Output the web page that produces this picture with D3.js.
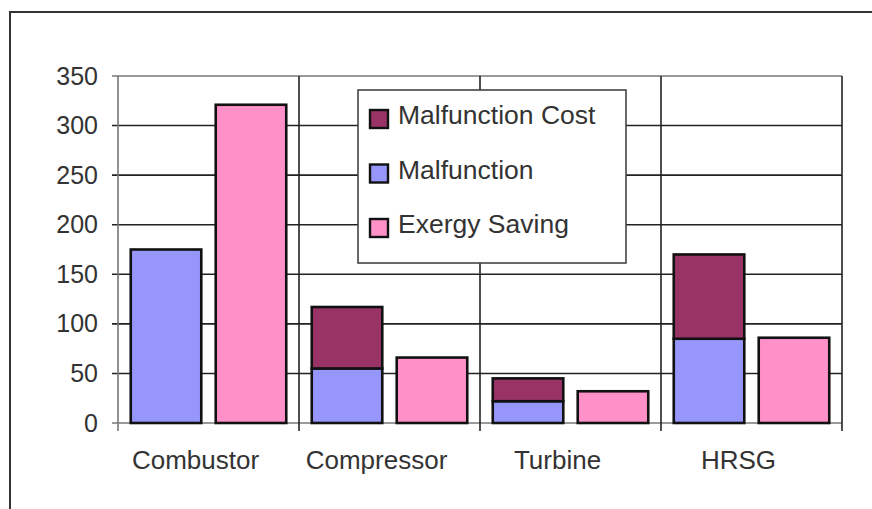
<!DOCTYPE html>
<html>
<head>
<meta charset="utf-8">
<script src="https://cdnjs.cloudflare.com/ajax/libs/d3/7.8.5/d3.min.js"></script>
<style>
  body { margin: 0; background: #fff; }
  svg { display: block; font-family: 'Liberation Sans', Arial, sans-serif; }
  .frame { fill: none; stroke: #333; stroke-width: 2; }
  .grid line { stroke: #222; stroke-width: 1.6; }
  .axis path { display: none; }
  .axis text { fill: #333; }
  .bar { stroke: #111; stroke-width: 2.6; }
  .legend rect.box { fill: #fff; stroke: #444; stroke-width: 1.6; }
  .legend text { fill: #333; font-size: 26.5px; }
</style>
</head>
<body>
<svg width="872" height="509"></svg>
<script>
// Data:
var categories = ['Combustor', 'Compressor', 'Turbine', 'HRSG'];
var malfunction = [175, 55, 22, 85];
var malfunctionCost = [0, 62, 23, 85];
var exergySaving = [321, 66, 32, 86];
var yTicks = [0, 50, 100, 150, 200, 250, 300, 350];

// Series names and colours:
var seriesNames = ['Malfunction Cost', 'Malfunction', 'Exergy Saving'];
var colors = {
  'Malfunction Cost': '#993366',
  'Malfunction': '#9696fc',
  'Exergy Saving': '#ff91c8'
};

// Select the SVG element:
var svg = d3.select('svg');

// Define the margins of the plot area:
var margin = {
  top: 76,
  right: 30,
  bottom: 86,
  left: 118
};

var width = 872 - margin.left - margin.right;
var height = 509 - margin.top - margin.bottom;

// Outer frame of the picture (only top and left are visible):
svg.append('path')
  .attr('class', 'frame')
  .attr('d', 'M10,520V12H880');

// Build rows from the arrays:
var data = categories.map(function (c, i) {
  return {
    category: c,
    malfunction: malfunction[i],
    cost: malfunctionCost[i],
    saving: exergySaving[i]
  };
});

// Scales:
var x = d3.scaleBand().domain(categories).range([0, width]);
var xSub = d3.scaleBand()
  .domain(['stack', 'saving'])
  .range([0, x.bandwidth()])
  .paddingInner(0.17)
  .paddingOuter(0.15);
var y = d3.scaleLinear().domain([0, 350]).range([height, 0]);

var g = svg.append('g')
  .attr('transform', 'translate(' + margin.left + ',' + margin.top + ')');

// Horizontal gridlines:
g.append('g')
  .attr('class', 'grid')
  .selectAll('line')
  .data(yTicks)
  .enter()
  .append('line')
  .attr('x1', -6)
  .attr('x2', width)
  .attr('y1', function (d) { return y(d); })
  .attr('y2', function (d) { return y(d); })
  .style('stroke', function (d) { return d === 350 || d === 0 ? '#777' : null; });

// Vertical category dividers (with the small tick below the zero line):
g.append('g')
  .attr('class', 'grid')
  .selectAll('line')
  .data(d3.range(categories.length + 1))
  .enter()
  .append('line')
  .attr('x1', function (i) { return i * x.step(); })
  .attr('x2', function (i) { return i * x.step(); })
  .attr('y1', 0)
  .attr('y2', height + 8)
  .style('stroke', function (i) { return i === 0 ? '#777' : null; });

// Y axis labels:
var yAxis = g.append('g')
  .attr('class', 'axis')
  .call(d3.axisLeft(y).tickValues(yTicks).tickSize(0).tickPadding(20));
yAxis.selectAll('text').style('font-size', '25px');

// X axis labels:
var xAxis = g.append('g')
  .attr('class', 'axis')
  .attr('transform', 'translate(0,' + height + ')')
  .call(d3.axisBottom(x).tickSize(0).tickPadding(28));
xAxis.selectAll('text')
  .style('font-size', '26px')
  .attr('dx', -13);

// Groups for each category:
var groups = g.selectAll('.cat')
  .data(data)
  .enter()
  .append('g')
  .attr('class', 'cat')
  .attr('transform', function (d) { return 'translate(' + x(d.category) + ',0)'; });

// Malfunction (bottom of the stack):
groups.append('rect')
  .attr('class', 'bar')
  .attr('x', xSub('stack'))
  .attr('width', xSub.bandwidth())
  .attr('y', function (d) { return y(d.malfunction); })
  .attr('height', function (d) { return height - y(d.malfunction); })
  .attr('fill', colors['Malfunction']);

// Malfunction cost (on top of the stack):
groups.filter(function (d) { return d.cost > 0; })
  .append('rect')
  .attr('class', 'bar')
  .attr('x', xSub('stack'))
  .attr('width', xSub.bandwidth())
  .attr('y', function (d) { return y(d.malfunction + d.cost); })
  .attr('height', function (d) { return y(d.malfunction) - y(d.malfunction + d.cost); })
  .attr('fill', colors['Malfunction Cost']);

// Exergy saving:
groups.append('rect')
  .attr('class', 'bar')
  .attr('x', xSub('saving'))
  .attr('width', xSub.bandwidth())
  .attr('y', function (d) { return y(d.saving); })
  .attr('height', function (d) { return height - y(d.saving); })
  .attr('fill', colors['Exergy Saving']);

// Legend:
var legend = svg.append('g')
  .attr('class', 'legend')
  .attr('transform', 'translate(358,90)');

legend.append('rect')
  .attr('class', 'box')
  .attr('width', 268)
  .attr('height', 173);

var items = legend.selectAll('.item')
  .data(seriesNames)
  .enter()
  .append('g')
  .attr('class', 'item')
  .attr('transform', function (d, i) { return 'translate(12,' + (29 + i * 54.5) + ')'; });

items.append('rect')
  .attr('x', 0)
  .attr('y', -9)
  .attr('width', 18)
  .attr('height', 18)
  .attr('fill', function (d) { return colors[d]; })
  .attr('stroke', '#111')
  .attr('stroke-width', 2.4);

items.append('text')
  .attr('x', 28)
  .attr('y', 5)
  .text(function (d) { return d; });
</script>
</body>
</html>
